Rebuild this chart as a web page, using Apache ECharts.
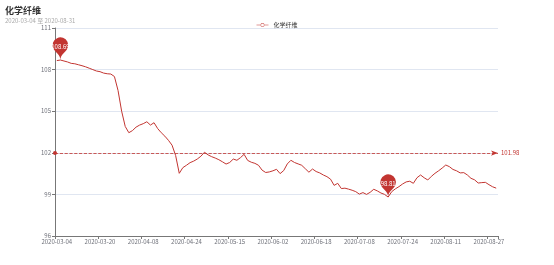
<!DOCTYPE html>
<html><head><meta charset="utf-8">
<script src="https://cdn.jsdelivr.net/npm/echarts@6/dist/echarts.min.js"></script>
<style>html,body{margin:0;padding:0;background:#fff}#c{width:554px;height:265px}</style>
</head><body><div id="c"></div>
<script>
const seriesName = '化学纤维';
const mar = ['04','05','06','09','10','11','12','13','16','17','18','19','20','23','24','25','26','27','30','31'];
const apr = ['01','02','03','07','08','09','10','13','14','15','16','17','20','21','22','23','24','27','28','29','30'];
const may = ['06','07','08','11','12','13','14','15','18','19','20','21','22','25','26','27','28','29'];
const jun = ['01','02','03','04','05','08','09','10','11','12','15','16','17','18','19','22','23','24','29','30'];
const jul = ['01','02','03','06','07','08','09','10','13','14','15','16','17','20','21','22','23','24','27','28','29','30','31'];
const aug = ['03','04','05','06','07','10','11','12','13','14','17','18','19','20','21','24','25','26','27','28','31'];
const dates = [].concat(
  mar.map(d => '2020-03-' + d), apr.map(d => '2020-04-' + d), may.map(d => '2020-05-' + d),
  jun.map(d => '2020-06-' + d), jul.map(d => '2020-07-' + d), aug.map(d => '2020-08-' + d));
const values = [
  108.65,108.69,108.62,108.55,108.45,108.42,108.35,108.28,108.2,108.1,
  108.0,107.9,107.85,107.75,107.7,107.68,107.5,106.5,105.0,103.9,
  103.45,103.6,103.85,104.0,104.1,104.24,104.0,104.17,103.75,103.45,
  103.2,102.9,102.55,101.8,100.52,100.93,101.1,101.29,101.4,101.55,
  101.75,102.04,101.85,101.72,101.62,101.5,101.35,101.19,101.3,101.55,
  101.46,101.65,101.89,101.45,101.32,101.24,101.1,100.75,100.58,100.62,
  100.7,100.81,100.5,100.72,101.2,101.46,101.3,101.2,101.1,100.85,
  100.6,100.83,100.65,100.55,100.4,100.28,100.1,99.65,99.8,99.42,
  99.45,99.38,99.3,99.2,99.02,99.13,99.0,99.15,99.37,99.25,
  99.1,99.0,98.81,99.2,99.4,99.56,99.75,99.9,99.95,99.8,
  100.2,100.4,100.2,100.04,100.3,100.52,100.7,100.9,101.12,101.0,
  100.8,100.7,100.55,100.57,100.4,100.16,100.05,99.82,99.85,99.87,
  99.7,99.55,99.45];
const yTicks = { min: 96, max: 111, interval: 3 };

const FONT = 'Noto Sans CJK SC';
const RED = '#c23531';
const LEGEND_ICON = 'path://M0,4.6L7.6,4.6L7.6,5.4L0,5.4Z M16.4,4.6L24,4.6L24,5.4L16.4,5.4Z M8,5A4,4 0 1,1 16,5A4,4 0 1,1 8,5Z M9,5A3,3 0 1,0 15,5A3,3 0 1,0 9,5Z';
const chart = echarts.init(document.getElementById('c'));
chart.setOption({
  animation: false,
  textStyle: { fontFamily: FONT },
  title: {
    text: seriesName, subtext: dates[0] + ' 至 ' + dates[dates.length - 1],
    left: 0, top: 1, itemGap: 3,
    textStyle: { fontSize: 9, fontWeight: 'bold', color: '#333', fontFamily: FONT },
    subtextStyle: { fontSize: 6, color: '#aaa', fontFamily: FONT }
  },
  legend: {
    top: 17, left: 'center', itemWidth: 12, itemHeight: 5, itemGap: 4,
    textStyle: { fontSize: 6, color: '#333', fontFamily: FONT },
    data: [{ name: seriesName, icon: LEGEND_ICON }]
  },
  grid: { left: 55, right: 56, top: 28, bottom: 29, containLabel: false },
  xAxis: {
    type: 'category', data: dates, boundaryGap: true,
    axisLine: { show: true, lineStyle: { color: '#777', width: 1 } },
    axisTick: { show: true, length: 3, interval: 11, lineStyle: { color: '#777' } },
    axisLabel: { interval: 11, fontSize: 6, color: '#6e7079', margin: 3, fontFamily: FONT },
    splitLine: { show: false }
  },
  yAxis: {
    type: 'value', min: yTicks.min, max: yTicks.max, interval: yTicks.interval,
    axisLine: { show: true, lineStyle: { color: '#777', width: 1 } },
    axisTick: { show: true, length: 3, lineStyle: { color: '#777' } },
    axisLabel: { fontSize: 6, color: '#6e7079', margin: 4, fontFamily: FONT },
    splitLine: { show: true, lineStyle: { color: '#e0e6f1' } }
  },
  series: [{
    name: seriesName, type: 'line', data: values,
    showSymbol: false, symbol: 'emptyCircle', symbolSize: 4,
    itemStyle: { color: RED },
    lineStyle: { color: RED, width: 1 },
    markPoint: {
      symbol: 'pin', symbolSize: 26,
      label: { fontSize: 6, color: '#fff', fontFamily: FONT },
      itemStyle: { color: RED },
      data: [{ type: 'max', name: '最大值' }, { type: 'min', name: '最小值' }]
    },
    markLine: {
      symbol: ['circle', 'arrow'], symbolSize: [4, 7],
      lineStyle: { color: RED, type: 'dashed', width: 0.8 },
      label: { fontSize: 6, color: RED, fontFamily: FONT, distance: 3 },
      data: [{ type: 'average', name: '平均值' }]
    }
  }]
});
</script></body></html>
